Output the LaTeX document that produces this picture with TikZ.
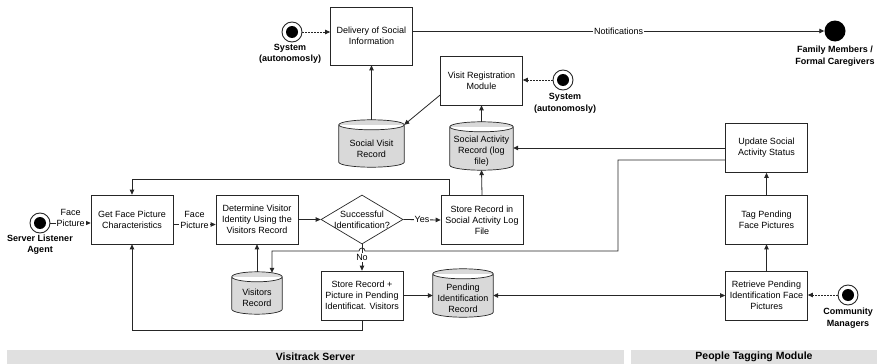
\documentclass[tikz,border=0pt]{standalone}
\usepackage{fontspec}
\setmainfont{Liberation Sans}
\usetikzlibrary{arrows.meta,shapes.geometric,calc,backgrounds}
\newcommand{\drawstore}[1]{\filldraw[storeline] let \p1=(#1.north west), \p2=(#1.south east), \n1={(\x2-\x1)/2} in
    (\x1,\y1+5) arc[start angle=180, end angle=0, x radius={\n1*1pt}, y radius=5pt]
    -- (\x2,\y2+5) arc[start angle=0, end angle=-180, x radius={\n1*1pt}, y radius=5pt] -- cycle
    (\x1,\y1+5) arc[start angle=180, end angle=360, x radius={\n1*1pt}, y radius=5pt];}

\begin{document}
\begin{tikzpicture}[x=1pt, y=-1pt, >={Triangle[length=5pt,width=4.5pt]},
	txt/.style={font=\fontsize{9}{11}\selectfont, align=center},
	box/.style={txt, draw=black!85, line width=0.7pt, minimum width=82, minimum height=49, inner sep=1},
	decision/.style={diamond, draw=black!85, line width=0.7pt, minimum width=82, minimum height=49, inner sep=0},
	store/.style={txt, inner sep=0},
	storeline/.style={draw=black!85, line width=0.7pt, fill=black!15},
	actor/.style={circle, draw=black!85, line width=0.9pt, minimum size=20, inner sep=0,
		path picture={\fill (path picture bounding box.center) circle (6pt);}},
	who/.style={font=\bfseries\fontsize{9}{11.5}\selectfont, align=center},
	flow/.style={->, draw=black!85, line width=0.8pt},
	trig/.style={flow, dash pattern=on 2pt off 1pt},
	lbl/.style={txt, fill=white, inner sep=1},
	barlbl/.style={fill=black!12, font=\bfseries\fontsize{10.5}{12}\selectfont, inner sep=0, minimum height=14}]
		%%%%% START %%%%%
		\useasboundingbox (0,0) rectangle (879,364);
		
		% actors
		\node[actor] (sys1) at (292,32) {};
		\node[who] (sys1lbl) at (290,54) {System\\(autonomosly)};
		\node[circle, fill=black, minimum size=21, inner sep=0] (family) at (835,31) {};
		\node[who] (familylbl) at (835,56) {Family Members /\\Formal Caregivers};
		\node[actor] (sys2) at (563,80) {};
		\node[who] (sys2lbl) at (565,103.5) {System\\(autonomosly)};
		\node[actor] (listener) at (40,223) {};
		\node[who] (listenerlbl) at (40,244.5) {Server Listener\\Agent};
		\node[actor] (community) at (848,295) {};
		\node[who] (communitylbl) at (848,318) {Community\\Managers};
		
		% processes
		\node[box, minimum height=58] (deliv) at (371.5,36) {Delivery of Social\\Information};
		\node[box] (visreg) at (481.5,80.5) {Visit Registration\\Module};
		\node[box] (update) at (766.5,148) {Update Social\\Activity Status};
		\node[box] (getface) at (132,219.5) {Get Face Picture\\Characteristics};
		\node[box] (determ) at (257,219.5) {Determine Visitor\\Identity Using the\\Visitors Record};
		\node[decision, label={[txt]center:Successful\\Identification?}] (decide) at (362,219.5) {};
		\node[box] (storelog) at (482,220) {Store Record in\\Social Activity Log\\File};
		\node[box] (storepend) at (362,295.5) {Store Record +\\Picture in Pending\\Identificat. Visitors};
		\node[box] (tag) at (766.5,219.5) {Tag Pending\\Face Pictures};
		\node[box] (retrieve) at (766.5,295.5) {Retrieve Pending\\Identification Face\\Pictures};
		
		% records
		\node[store, minimum width=65, minimum height=37] (svr) at (371.5,148.5) {Social Visit\\Record};
		\node[store, minimum width=63, minimum height=38] (sar) at (481.5,151) {Social Activity\\Record (log\\file)};
		\node[store, minimum width=50, minimum height=32] (vr) at (257,298) {Visitors\\Record};
		\node[store, minimum width=60, minimum height=38] (pir) at (463,298) {Pending\\Identification\\Record};
		\begin{scope}[on background layer]
			\foreach \s in {svr,sar,vr,pir} {\drawstore{\s}}
		\end{scope}
		
		% connectors
		\draw[trig] (sys1) -- (sys1 -| deliv.west);
		\draw[flow] (deliv.east |- family) -- node[lbl]{Notifications} (family);
		\draw[trig] (sys2) -- (sys2 -| visreg.east);
		\draw[flow] ([yshift=10]svr.north) -- (deliv.south);
		\draw[flow] ([yshift=-14.5]visreg.west) -- ([yshift=5]svr.north east);
		\draw[flow] ([yshift=10]sar.north) -- (visreg.south);
		\draw[flow] (update.west) -- (update.west -| sar.east);
		\draw[flow] ([yshift=-12]update.west) -- (618,160) -- (618,251) -- (365,251)
			arc[start angle=0, end angle=180, radius=3pt] -- (272,251) -- ([xshift=15,yshift=9]vr.north);
		
		\draw[flow] (listener) -- node[lbl, yshift=5]{Face\\Picture} (listener -| getface.west);
		\draw[flow] ([yshift=-5]getface.east) -- node[lbl, yshift=5]{Face\\Picture} ([yshift=-5]determ.west);
		\draw[flow] (determ.east) -- (decide.west);
		\draw[flow] ([yshift=10]vr.north) -- (determ.south);
		\draw[flow] (decide.east) -- node[lbl]{Yes} (storelog.west);
		\draw[flow] (decide.south) -- node[lbl]{No} (storepend.north);
		\draw[flow] (storelog.north) -- (sar.south);
		\draw[flow] ([xshift=-33]storelog.north) -- ++(0,-16) -| (getface.north);
		\draw[flow] (storepend.south) -- ++(0,10) -| (getface.south);
		\draw[flow] (storepend) -- (storepend -| pir.west);
		\draw[flow, <->] (retrieve.west -| pir.east) -- (retrieve.west);
		\draw[flow] (retrieve) -- (tag);
		\draw[flow] (tag) -- (update);
		\draw[trig] (community) -- (community -| retrieve.east);
		
		% swimlane bars
		\node[barlbl, minimum width=617] (server) at (315.5,357) {Visitrack Server};
		\node[barlbl, minimum width=246] (tagging) at (754,357) {People Tagging Module};
		%%%%% END %%%%%
\end{tikzpicture}
\end{document}
